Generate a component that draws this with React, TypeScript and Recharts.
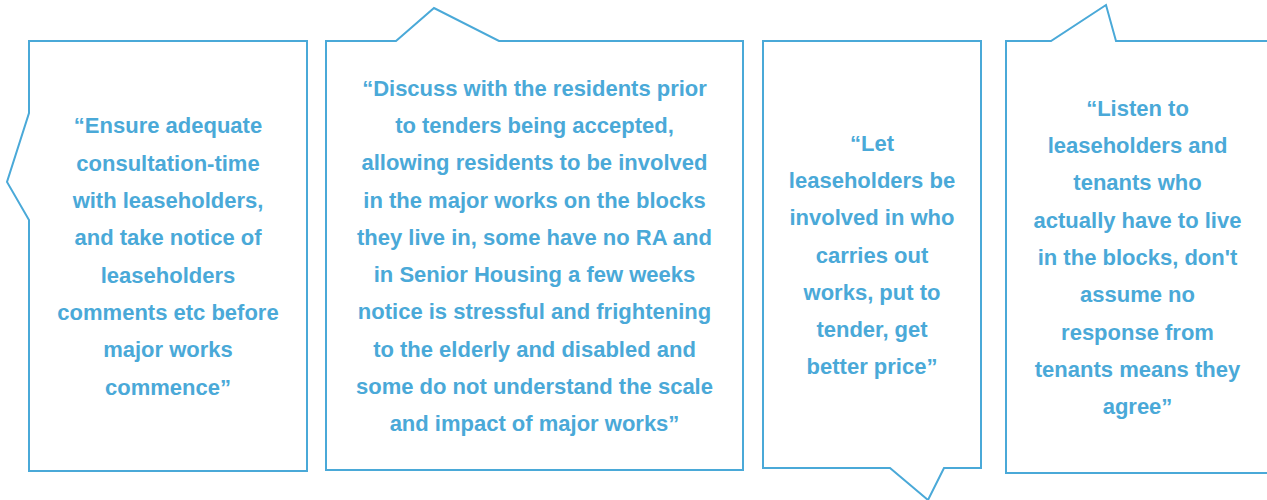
import { ComposedChart, Scatter, XAxis, YAxis } from 'recharts';

const quoteEnsure = [
  '\u201CEnsure adequate',
  'consultation-time',
  'with leaseholders,',
  'and take notice of',
  'leaseholders',
  'comments etc before',
  'major works',
  'commence\u201D',
];

const quoteDiscuss = [
  '\u201CDiscuss with the residents prior',
  'to tenders being accepted,',
  'allowing residents to be involved',
  'in the major works on the blocks',
  'they live in, some have no RA and',
  'in Senior Housing a few weeks',
  'notice is stressful and frightening',
  'to the elderly and disabled and',
  'some do not understand the scale',
  'and impact of major works\u201D',
];

const quoteLet = [
  '\u201CLet',
  'leaseholders be',
  'involved in who',
  'carries out',
  'works, put to',
  'tender, get',
  'better price\u201D',
];

const quoteListen = [
  '\u201CListen to',
  'leaseholders and',
  'tenants who',
  'actually have to live',
  "in the blocks, don't",
  'assume no',
  'response from',
  'tenants means they',
  'agree\u201D',
];

const quotes = [quoteEnsure, quoteDiscuss, quoteLet, quoteListen];

// bubble boxes and tails (layout only)
const bubbleLayout = [
  { left: 29, right: 307, top: 41, bottom: 471, tail: { side: 'left', from: 220, apex: [7, 182], to: 113 } },
  { left: 326, right: 743, top: 41, bottom: 470, tail: { side: 'top', from: 396, apex: [434, 8], to: 499 } },
  { left: 763, right: 981, top: 41, bottom: 468, tail: { side: 'bottom', from: 944, apex: [928, 500], to: 890 } },
  { left: 1006, right: 1269, top: 41, bottom: 473, tail: { side: 'top', from: 1051, apex: [1106, 5], to: 1116 } },
];

const BLUE = '#4aa9d8';
const LINE_H = 37.3;

const points = quotes.map((lines, i) => {
  const b = bubbleLayout[i];
  return {
    x: (b.left + b.right) / 2,
    y: (b.top + b.bottom) / 2,
    lines,
    box: b,
  };
});

function bubblePath(b: any) {
  const t = b.tail;
  const p: string[] = [`M${b.left},${b.top}`];
  if (t.side === 'top') p.push(`L${t.from},${b.top}`, `L${t.apex[0]},${t.apex[1]}`, `L${t.to},${b.top}`);
  p.push(`L${b.right},${b.top}`, `L${b.right},${b.bottom}`);
  if (t.side === 'bottom') p.push(`L${t.from},${b.bottom}`, `L${t.apex[0]},${t.apex[1]}`, `L${t.to},${b.bottom}`);
  p.push(`L${b.left},${b.bottom}`);
  if (t.side === 'left') p.push(`L${b.left},${t.from}`, `L${t.apex[0]},${t.apex[1]}`, `L${b.left},${t.to}`);
  p.push('Z');
  return p.join(' ');
}

function Bubble(props: any) {
  const { cx, cy, payload } = props;
  const lines: string[] = payload.lines;
  const dx = cx - payload.x;
  const dy = cy - payload.y;
  const start = cy - ((lines.length - 1) * LINE_H) / 2;
  return (
    <g>
      <path
        d={bubblePath(payload.box)}
        transform={`translate(${dx},${dy})`}
        fill="#fff"
        stroke={BLUE}
        strokeWidth={2}
        strokeLinejoin="miter"
      />
      <text
        textAnchor="middle"
        dominantBaseline="central"
        fill={BLUE}
        fontFamily="'Liberation Sans', Arial, sans-serif"
        fontWeight="bold"
        fontSize={22}
      >
        {lines.map((l, i) => (
          <tspan key={i} x={cx} y={start + i * LINE_H}>
            {l}
          </tspan>
        ))}
      </text>
    </g>
  );
}

export default function App() {
  return (
    <div style={{ position: 'absolute', left: 0, top: 0, width: 1267, height: 500, overflow: 'hidden', background: '#fff' }}>
      <ComposedChart width={1267} height={500} data={points} margin={{ top: 0, right: 0, bottom: 0, left: 0 }}>
        <XAxis hide type="number" dataKey="x" domain={[0, 1267]} />
        <YAxis hide type="number" dataKey="y" domain={[0, 500]} reversed />
        <Scatter data={points} dataKey="y" isAnimationActive={false} shape={(p: any) => <Bubble {...p} />} />
      </ComposedChart>
    </div>
  );
}
